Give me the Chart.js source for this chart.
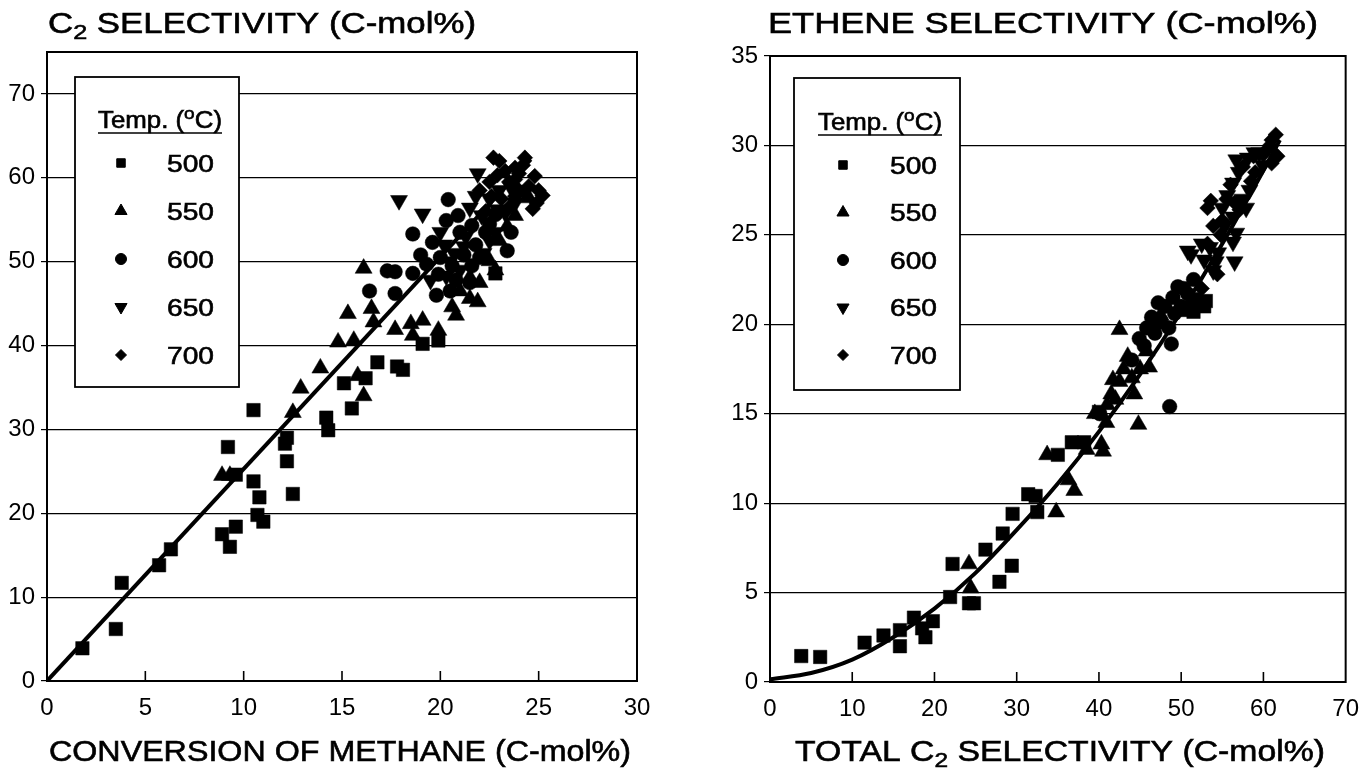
<!DOCTYPE html>
<html><head><meta charset="utf-8">
<script src="https://cdn.jsdelivr.net/npm/chart.js@4.4.1/dist/chart.umd.min.js"></script>
<style>
html,body{margin:0;padding:0;background:#fff;}
#wrap{position:relative;width:1372px;height:772px;overflow:hidden;background:#fff;}
canvas{position:absolute;top:0;}
</style></head><body>
<div id="wrap">
<canvas id="c1" width="686" height="772" style="left:0;width:686px;height:772px"></canvas>
<canvas id="c2" width="686" height="772" style="left:686px;width:686px;height:772px"></canvas>
</div>
<script>
// ---------------- DATA ----------------
const temps = ['500', '550', '600', '650', '700'];

// Left panel: x = conversion of methane, y = C2 selectivity
const leftXTicks = [0, 5, 10, 15, 20, 25, 30];
const leftYTicks = [0, 10, 20, 30, 40, 50, 60, 70];
const left500 = [[1.8,3.9],[3.5,6.2],[3.8,11.7],[5.7,13.8],[6.3,15.7],[8.9,17.5],[9.3,16.0],[9.6,18.4],[9.2,27.9],[9.6,24.6],[10.5,23.8],[10.8,21.9],[10.7,19.8],[11.0,19.0],[10.5,32.3],[12.2,29.0],[12.1,28.3],[12.2,26.2],[12.5,22.3],[14.2,31.4],[14.3,29.9],[15.1,35.5],[15.5,32.5],[16.2,36.1],[16.8,38.0],[17.8,37.5],[18.1,37.1],[19.1,40.2],[19.9,40.6],[22.8,48.6]];
const left550 = [[8.9,24.5],[9.3,24.5],[12.5,32.0],[12.9,34.9],[13.9,37.3],[14.8,40.4],[15.6,40.6],[15.3,43.8],[16.1,49.2],[16.5,44.4],[16.6,42.8],[15.8,36.4],[16.1,34.0],[17.7,41.9],[18.5,42.6],[19.1,43.0],[19.9,41.8],[18.6,41.2],[20.8,43.6],[21.5,45.6],[21.5,48.1],[22.5,50.1],[23.0,52.5],[23.4,54.2],[24.5,57.6],[20.6,44.6],[21.0,46.5],[22.0,47.5],[22.8,49.0],[21.9,45.2],[23.8,55.5]];
const left600 = [[17.3,48.9],[17.7,48.8],[16.4,46.5],[17.7,46.2],[18.6,48.6],[18.6,53.3],[19.6,52.3],[20.3,54.9],[20.4,57.4],[20.0,50.5],[20.6,49.5],[21.2,50.8],[21.0,53.5],[21.8,52.0],[22.3,53.5],[23.6,53.5],[23.4,51.3],[19.8,46.0],[20.5,46.5],[21.5,47.5],[19.3,49.7],[22.5,54.5],[19.0,50.8],[19.9,48.5],[20.8,47.8],[21.6,49.5],[22.0,50.5],[20.9,55.5],[21.6,54.3],[22.8,55.6]];
const left650 = [[17.9,57.3],[19.1,55.7],[21.9,60.5],[21.5,56.4],[20.2,52.0],[20.7,51.0],[21.3,53.0],[22.1,55.5],[22.5,57.5],[23.0,58.5],[23.3,55.8],[22.8,53.5],[21.0,49.0],[20.5,50.0],[19.5,47.8],[23.8,57.0],[24.2,58.5],[22.2,51.0],[20.0,53.5],[21.8,57.8],[22.9,56.2],[23.6,58.8],[21.2,51.8],[20.3,48.3],[22.5,52.5]];
const left700 = [[22.7,62.4],[24.3,62.4],[25.2,57.9],[24.7,56.3],[23.8,61.2],[23.0,62.0],[23.5,59.5],[24.0,60.5],[22.5,59.5],[22.0,58.5],[23.1,57.5],[24.5,59.0],[25.0,58.5],[22.3,56.0],[23.8,57.8],[24.8,60.2],[22.9,60.3],[23.3,60.8],[24.0,58.5],[23.5,56.5],[24.9,57.0],[22.6,57.8],[23.8,59.8],[24.2,61.5]];
const leftFit = [[0,0],[24.6,62.2]];

// Right panel: x = total C2 selectivity, y = ethene selectivity
const rightXTicks = [0, 10, 20, 30, 40, 50, 60, 70];
const rightYTicks = [0, 5, 10, 15, 20, 25, 30, 35];
const right500 = [[3.8,1.45],[6.1,1.4],[11.5,2.2],[13.8,2.6],[15.8,2.9],[15.8,2.0],[17.5,3.6],[18.5,3.0],[18.9,2.5],[19.8,3.4],[21.9,4.75],[22.2,6.6],[24.2,4.4],[24.8,4.4],[26.2,7.4],[27.9,5.6],[28.3,8.3],[29.5,9.4],[29.4,6.5],[31.4,10.5],[32.3,10.4],[32.5,9.5],[36.7,13.4],[38.2,13.4],[35.0,12.7],[40.0,15.1],[52.8,21.0],[51.8,21.4],[50.5,20.8],[51.5,20.7],[53.0,21.3]];
const right550 = [[24.2,6.6],[24.4,5.25],[33.7,12.7],[34.8,9.5],[36.3,11.3],[37.0,10.7],[40.3,13.3],[40.5,12.9],[40.9,14.5],[44.8,14.4],[41.5,16.1],[44.3,16.1],[41.7,16.9],[43.5,18.2],[46.1,17.6],[42.5,19.7],[46.8,20.0],[45.0,17.5],[42.5,16.8],[39.5,15.0],[38.5,13.0],[47.5,20.5],[43.0,17.5],[44.0,17.0],[45.8,18.5],[41.0,15.5],[42.0,15.8]];
const right600 = [[48.6,15.4],[40.1,15.0],[44.9,19.2],[48.8,18.9],[47.2,21.2],[49.6,22.1],[50.8,21.7],[48.5,19.8],[49.2,20.6],[46.4,20.4],[44.0,18.0],[51.5,22.5],[50.0,21.0],[45.5,18.8],[47.5,20.2],[48.0,21.0],[49.0,21.5],[50.3,22.0],[51.0,21.0],[46.8,19.5],[45.8,19.8]];
const right650 = [[51.2,23.9],[50.8,24.1],[56.5,23.5],[56.7,29.2],[58.1,29.3],[58.9,29.6],[59.9,28.9],[56.3,27.9],[58.3,27.5],[55.6,27.2],[57.9,26.5],[56.3,26.0],[56.7,25.1],[56.3,24.6],[53.9,23.0],[52.8,23.6],[53.5,24.3],[57.5,27.0],[52.5,24.5],[54.5,24.0],[55.3,25.5],[55.0,26.5],[57.0,28.5],[59.5,29.6],[54.2,23.5]];
const right700 = [[61.5,30.6],[61.0,30.3],[61.7,29.4],[61.0,29.0],[53.2,26.5],[53.6,26.9],[57.1,26.4],[53.9,25.5],[53.2,24.5],[54.4,22.8],[60.0,29.5],[59.0,28.5],[55.0,25.8],[58.5,28.0],[60.5,29.8],[52.5,22.0],[55.5,27.0],[56.0,27.8],[57.5,28.8],[58.8,29.4],[60.8,30.0],[54.8,25.0],[56.5,26.8]];
const rightFit = [[0,0.15],[5,0.5],[10,1.25],[15,2.5],[20,4.1],[25,6.1],[30,8.5],[35,11.1],[40,14.0],[45,17.2],[50,20.7],[55,24.5],[60,28.6],[62,30.3]];

// ---------------- STYLE ----------------
const FONT = "'Liberation Sans', Arial, Helvetica, sans-serif";
const markers = [
  {style:'rect', rot:0, r:9.5, lr:6},
  {style:'triangle', rot:0, r:9.8, lr:7},
  {style:'circle', rot:0, r:7.3, lr:5.5},
  {style:'triangle', rot:180, r:9.8, lr:7},
  {style:'rectRot', rot:0, r:7.8, lr:5.5}
];
const toXY = a => a.map(p => ({x:p[0], y:p[1]}));

function drawParts(ctx, parts, x, y, size, targetW, align) {
  ctx.save();
  ctx.fillStyle = '#000';
  ctx.strokeStyle = '#000';
  ctx.lineWidth = 0.6;
  ctx.textBaseline = 'alphabetic';
  let nat = 0;
  const widths = parts.map(p => { ctx.font = (p[1] ? Math.round(size*0.72) : size) + 'px ' + FONT; const w = ctx.measureText(p[0]).width; nat += w; return w; });
  const sx = targetW ? targetW / nat : 1;
  const total = nat * sx;
  let x0 = align === 'center' ? x - total/2 : (align === 'right' ? x - total : x);
  ctx.translate(x0, y);
  ctx.scale(sx, 1);
  let cx = 0;
  parts.forEach((p, i) => {
    ctx.font = (p[1] ? Math.round(size*0.72) : size) + 'px ' + FONT;
    const dy = p[1] === 'sub' ? size*0.22 : (p[1] === 'sup' ? -size*0.38 : 0);
    ctx.fillText(p[0], cx, dy);
    ctx.strokeText(p[0], cx, dy);
    cx += widths[i];
  });
  ctx.restore();
  return total;
}

const framePlugin = {
  id: 'frame',
  beforeDatasetsDraw(chart, args, o) {
    const {ctx, chartArea: a} = chart;
    const xs = chart.scales.x;
    ctx.save();
    ctx.strokeStyle = '#000';
    ctx.lineWidth = 1.6;
    xs.ticks.forEach((t, i) => {
      if (i === 0 || i === xs.ticks.length - 1) return;
      const px = xs.getPixelForValue(t.value);
      ctx.beginPath(); ctx.moveTo(px, a.bottom); ctx.lineTo(px, a.bottom - 10); ctx.stroke();
    });
    ctx.lineWidth = 2;
    ctx.strokeRect(a.left, a.top, a.right - a.left, a.bottom - a.top);
    ctx.restore();
  },
  afterDraw(chart, args, o) {
    const ctx = chart.ctx;
    drawParts(ctx, o.title, o.titleX, o.titleY, 29, o.titleW, 'left');
    drawParts(ctx, o.xTitle, o.xTitleX, o.xTitleY, 29, o.xTitleW, 'center');
    const L = o.legend;
    ctx.save();
    ctx.fillStyle = '#fff';
    ctx.fillRect(L.x, L.y, L.w, L.h);
    ctx.strokeStyle = '#000'; ctx.lineWidth = 1.8;
    ctx.strokeRect(L.x, L.y, L.w, L.h);
    ctx.restore();
    const tw = drawParts(ctx, [['Temp. (', false], ['o', 'sup'], ['C)', false]], L.titleX, L.titleY, 23, L.titleW, 'left');
    ctx.save(); ctx.strokeStyle = '#000'; ctx.lineWidth = 1.6;
    ctx.beginPath(); ctx.moveTo(L.titleX, L.titleY + 5); ctx.lineTo(L.titleX + tw, L.titleY + 5); ctx.stroke();
    ctx.restore();
    temps.forEach((t, i) => {
      const yy = L.rowY0 + i * L.rowDy;
      const m = markers[i];
      ctx.save(); ctx.fillStyle = '#000'; ctx.strokeStyle = '#000'; ctx.lineWidth = 1;
      Chart.helpers.drawPoint(ctx, {pointStyle: m.style, rotation: m.rot, radius: m.lr, borderWidth: 1}, L.symX, yy);
      ctx.restore();
      drawParts(ctx, [[t, false]], L.textX, yy + 8.5, 24, 47, 'left');
    });
  }
};

function makeChart(id, sets, fit, fitCurve, xr, yr, xt, yt, layout, frame) {
  const datasets = sets.map((d, i) => ({
    label: temps[i],
    data: toXY(d),
    pointStyle: markers[i].style,
    rotation: markers[i].rot,
    pointRadius: markers[i].r,
    pointBackgroundColor: '#000',
    pointBorderColor: '#000',
    pointBorderWidth: 0.5,
    showLine: false,
    order: 2
  }));
  datasets.push({
    type: 'line', label: 'fit', data: toXY(fit),
    borderColor: '#000', borderWidth: 4, pointRadius: 0, fill: false,
    cubicInterpolationMode: fitCurve ? 'monotone' : 'default', tension: 0,
    order: 1
  });
  return new Chart(document.getElementById(id), {
    type: 'scatter',
    data: {datasets},
    options: {
      responsive: false, animation: false, events: [],
      layout: {padding: layout.padding},
      plugins: {legend: {display: false}, tooltip: {enabled: false}, title: {display: false}, frame},
      scales: {
        x: {
          type: 'linear', min: xr[0], max: xr[1],
          afterBuildTicks: s => { s.ticks = xt.map(v => ({value: v})); },
          afterFit: s => { s.height = layout.xh; },
          grid: {display: false, drawTicks: false},
          border: {display: false},
          ticks: {color: '#000', font: {family: FONT, size: 24}, padding: 13, maxRotation: 0, autoSkip: false}
        },
        y: {
          type: 'linear', min: yr[0], max: yr[1],
          afterBuildTicks: s => { s.ticks = yt.map(v => ({value: v})); },
          afterFit: s => { s.width = layout.yw; },
          grid: {color: '#000', lineWidth: 1.2, drawTicks: true, tickLength: 6},
          border: {display: false},
          ticks: {color: '#000', font: {family: FONT, size: 24}, padding: 6, autoSkip: false}
        }
      }
    },
    plugins: [framePlugin]
  });
}

makeChart('c1', [left500, left550, left600, left650, left700], leftFit, false,
  [0, 30], [0, 75], leftXTicks, leftYTicks,
  {padding: {left: 0, top: 52, right: 49, bottom: 0}, yw: 47, xh: 91},
  {
    title: [['C', false], ['2', 'sub'], [' SELECTIVITY (C-mol%)', false]], titleX: 48, titleY: 33, titleW: 428,
    xTitle: [['CONVERSION OF METHANE (C-mol%)', false]], xTitleX: 340, xTitleY: 761, xTitleW: 582,
    legend: {x: 75, y: 77, w: 164, h: 310, titleX: 98, titleY: 128, titleW: 124, symX: 121, textX: 167, rowY0: 163, rowDy: 48}
  });

makeChart('c2', [right500, right550, right600, right650, right700], rightFit, true,
  [0, 70], [0, 35], rightXTicks, rightYTicks,
  {padding: {left: 0, top: 56, right: 16, bottom: 0}, yw: 84, xh: 90},
  {
    title: [['ETHENE SELECTIVITY (C-mol%)', false]], titleX: 82, titleY: 33, titleW: 550,
    xTitle: [['TOTAL C', false], ['2', 'sub'], [' SELECTIVITY (C-mol%)', false]], xTitleX: 374, xTitleY: 761, xTitleW: 530,
    legend: {x: 108, y: 78, w: 166, h: 312, titleX: 132, titleY: 130, titleW: 124, symX: 157, textX: 204, rowY0: 165, rowDy: 47.5}
  });
</script>
</body></html>
